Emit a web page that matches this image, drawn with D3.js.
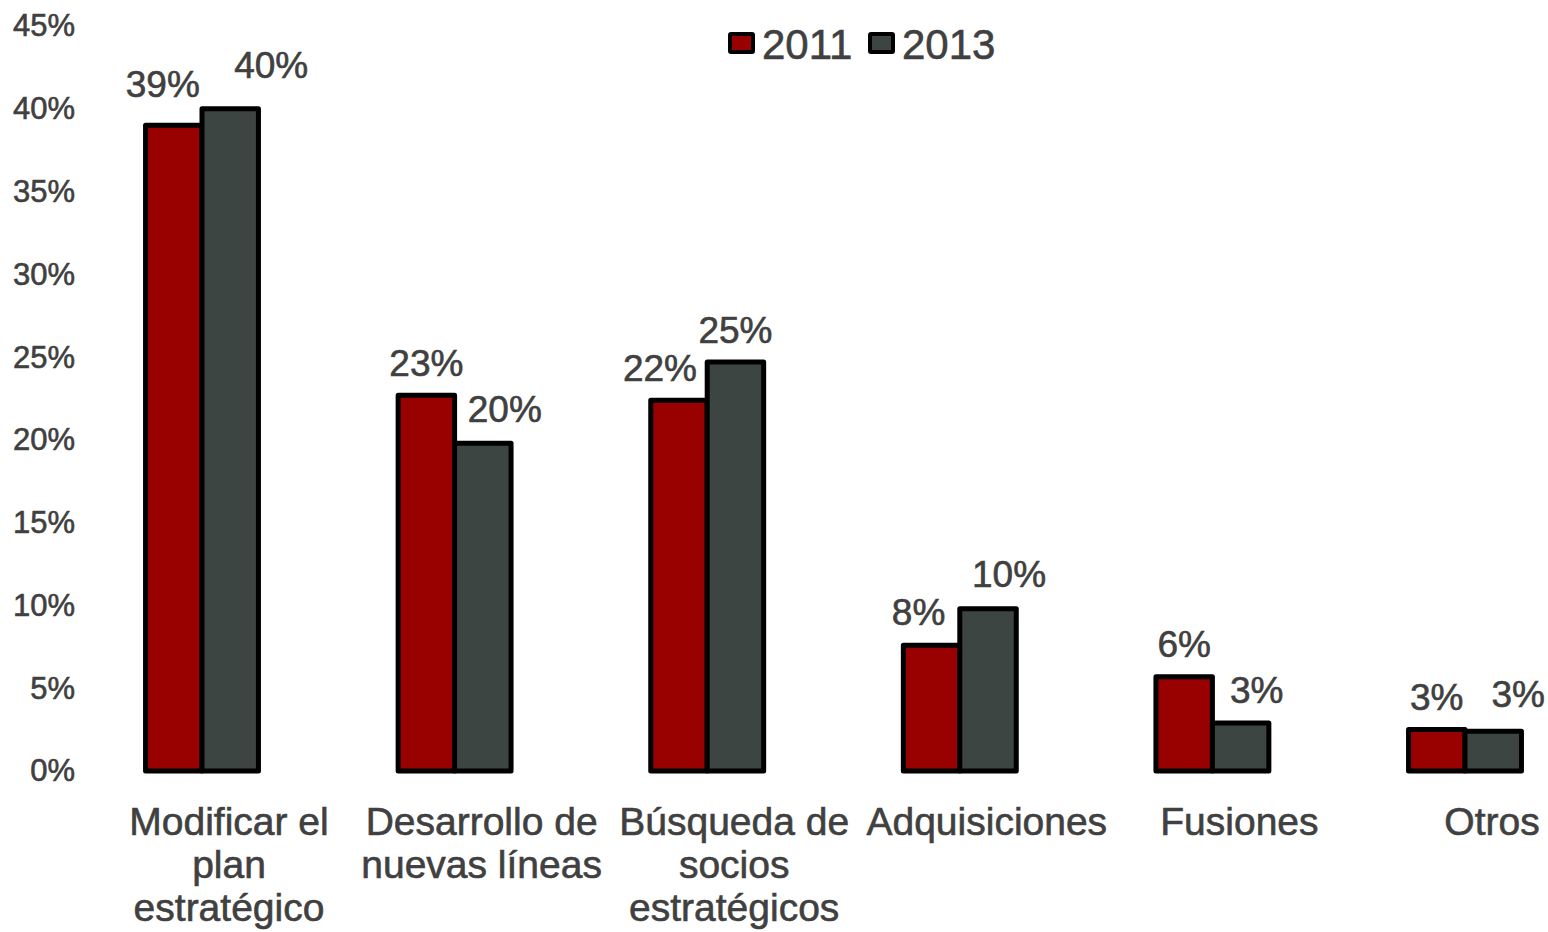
<!DOCTYPE html>
<html>
<head>
<meta charset="utf-8">
<script src="https://cdn.jsdelivr.net/npm/d3@7"></script>
<style>
  html, body { margin: 0; padding: 0; background: #ffffff; }
  svg text { font-family: "Liberation Sans", Arial, sans-serif; fill: #404040; stroke: #404040; stroke-width: 0.6px; }
</style>
</head>
<body>
<svg id="chart" width="1548" height="932"></svg>
<script>
// ---- data ----
const categories = [
  "Modificar el plan estratégico",
  "Desarrollo de nuevas líneas",
  "Búsqueda de socios estratégicos",
  "Adquisiciones",
  "Fusiones",
  "Otros"
];
const seriesNames = ["2011", "2013"];
const values2011 = [0.39, 0.227, 0.224, 0.076, 0.057, 0.025];
const values2013 = [0.40, 0.198, 0.247, 0.098, 0.029, 0.024];
const labels2011 = ["39%", "23%", "22%", "8%", "6%", "3%"];
const labels2013 = ["40%", "20%", "25%", "10%", "3%", "3%"];
const yTicks = [0, 0.05, 0.10, 0.15, 0.20, 0.25, 0.30, 0.35, 0.40, 0.45];

// ---- layout / style (not data) ----
const colors = { "2011": "#990000", "2013": "#3d4543" };
const labelDx = { "2011": [-11, 0, -19, -13, 0, 0], "2013": [41, 22, 0, 21, 16, 25] };
const labelDy = { "2011": [9, 0, 0, 1, 0, 0], "2013": [11, 2, 0, 2, 0, 5] };

const svg = d3.select("#chart");
svg.append("rect").attr("width", 1548).attr("height", 932).attr("fill", "#fff");

const y = d3.scaleLinear().domain([0, 0.45]).range([771, 26]);
const x = d3.scaleBand().domain(categories).range([75.7, 1591.3])
  .paddingInner(0.553).paddingOuter(0.2765);
const xs = d3.scaleBand().domain(seriesNames).range([0, x.bandwidth()]);

const series = seriesNames.map(s => ({
  name: s,
  values: s === "2011" ? values2011 : values2013,
  labels: s === "2011" ? labels2011 : labels2013
}));

// y axis
const yAxis = d3.axisLeft(y).tickValues(yTicks).tickFormat(d3.format(".0%")).tickSize(0).tickPadding(0);
const gy = svg.append("g").attr("transform", "translate(75,0)").call(yAxis);
gy.select(".domain").remove();
gy.selectAll("text").style("font-size", "31px").attr("fill", "#404040")
  .style("font-family", "'Liberation Sans', Arial, sans-serif");

// bars
const groups = svg.append("g").selectAll("g.series").data(series).join("g").attr("class", "series");
groups.selectAll("rect").data(s => s.values.map((v, i) => ({ s: s.name, v, i, c: categories[i] })))
  .join("rect")
  .attr("x", d => x(d.c) + xs(d.s))
  .attr("y", d => y(d.v))
  .attr("width", xs.bandwidth())
  .attr("height", d => y(0) - y(d.v))
  .attr("fill", d => colors[d.s])
  .attr("stroke", "#000")
  .attr("stroke-width", 5)
  .attr("stroke-linejoin", "round");

// data labels
groups.selectAll("text.lbl").data(s => s.values.map((v, i) => ({ s: s.name, v, i, c: categories[i], t: s.labels[i] })))
  .join("text")
  .attr("class", "lbl")
  .attr("x", d => x(d.c) + xs(d.s) + xs.bandwidth() / 2 + labelDx[d.s][d.i])
  .attr("y", d => y(d.v) - 19.5 - labelDy[d.s][d.i])
  .attr("text-anchor", "middle")
  .style("font-size", "37px")
  .text(d => d.t);

// x axis (labels only)
const xAxis = d3.axisBottom(x).tickSize(0).tickPadding(0);
const gx = svg.append("g").attr("transform", "translate(27,0)").call(xAxis);
gx.select(".domain").remove();
gx.selectAll(".tick text").remove();
gx.selectAll(".tick").each(function(cat) {
  const t = d3.select(this).append("text")
    .attr("text-anchor", "middle")
    .attr("fill", "#404040")
    .style("font-size", "39px")
    .style("font-family", "'Liberation Sans', Arial, sans-serif");
  const words = cat.split(" ");
  const lines = [];
  let cur = [];
  words.forEach(w => {
    cur.push(w);
    t.text(cur.join(" "));
    if (t.node().getComputedTextLength() > 255 && cur.length > 1) {
      cur.pop();
      lines.push(cur.join(" "));
      cur = [w];
    }
  });
  lines.push(cur.join(" "));
  t.text(null);
  lines.forEach((ln, k) => {
    t.append("tspan").attr("x", 0).attr("y", 835 + k * 43).text(ln);
  });
});

// legend
const legend = svg.append("g");
const legX = [730, 870];
seriesNames.forEach((s, k) => {
  legend.append("rect")
    .attr("x", legX[k]).attr("y", 34).attr("width", 23).attr("height", 18)
    .attr("fill", colors[s]).attr("stroke", "#000").attr("stroke-width", 4)
    .attr("stroke-linejoin", "round").attr("rx", 1);
  legend.append("text")
    .attr("x", legX[k] + 32).attr("y", 59)
    .style("font-size", "42px")
    .text(s);
});
</script>
</body>
</html>
